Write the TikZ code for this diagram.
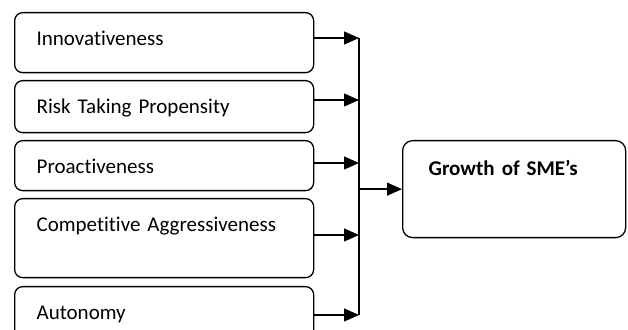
\documentclass[tikz,border=0pt]{standalone}
\usepackage{fontspec}
\setmainfont{Carlito}[Ligatures={NoCommon}]
\usetikzlibrary{arrows.meta, positioning}

\tikzset{
	factor/.style={draw, line width=0.65pt, rounded corners=4pt, anchor=north west,
		inner xsep=11pt, inner ysep=0pt, text width=127.5pt, align=left,
		text height=16.4pt, font=\fontsize{10.5}{12}\selectfont},
	result/.style={factor, rounded corners=5pt, inner xsep=13pt, text width=85.5pt,
		text height=17.65pt, font=\fontsize{10.5}{12}\selectfont\bfseries},
	arr/.style={-{Triangle[length=7.5pt,width=6.5pt]}, line width=0.65pt},
}

\begin{document}
\begin{tikzpicture}[x=0.5pt, y=-0.5pt]
			\useasboundingbox (0,0) rectangle (628,330);
			\clip (0,0) rectangle (628,330);

			% Factores
			\node[factor, text depth=13.6pt] (inno) at (14,12) {Innovativeness};
			\node[factor, text depth=9.6pt] (risk) at (14,80) {Risk Taking Propensity};
			\node[factor, text depth=8.6pt] (proa) at (14,140) {Proactiveness};
			\node[factor, text depth=23.1pt] (comp) at (14,198) {Competitive Aggressiveness};
			\node[factor, text depth=9.6pt] (auto) at (14,286) {Autonomy};

			% Resultado
			\node[result, text depth=30.85pt] (growth) at (402,140) {Growth of SME's};

			% Conectores
			\coordinate (b1) at (359,38);
			\coordinate (b2) at (359,100);
			\coordinate (b3) at (359,163);
			\coordinate (b4) at (359,235);
			\coordinate (b5) at (359,315);
			\foreach \n/\b in {inno/b1, risk/b2, proa/b3, comp/b4, auto/b5}
				\draw[arr] (\b -| \n.east) -- (\b);
			\draw[line width=0.65pt] (b1) -- (b5);
			\draw[arr] (growth.west -| b1) -- (growth.west);
		\end{tikzpicture}
\end{document}
